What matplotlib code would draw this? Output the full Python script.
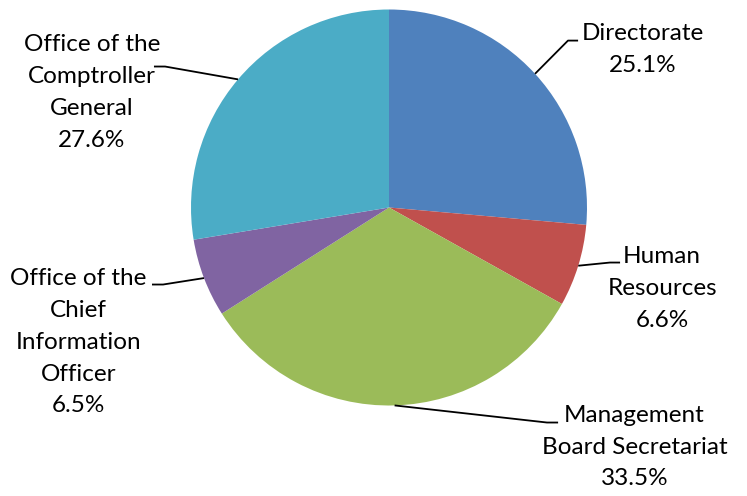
"""
Pie chart of share by division, with leader lines to outside labels.
"""

import matplotlib

matplotlib.use("Agg")
import matplotlib.pyplot as plt
import numpy as np

divisions = [
    "Directorate",
    "Human\nResources",
    "Management\nBoard Secretariat",
    "Office of the\nChief\nInformation\nOfficer",
    "Office of the\nComptroller\nGeneral",
]
# percentages printed on the labels
label_pcts = [25.1, 6.6, 33.5, 6.5, 27.6]
# wedge sizes as drawn in the picture (they don't quite agree with the labels)
wedge_sizes = [26.4, 6.7, 32.9, 6.4, 27.6]
colors = ["#4F81BD", "#C0504D", "#9BBB59", "#8064A2", "#4BACC6"]

# label centre, leader elbow and leader end (pie radius units, centre at 0,0)
label_pos = [(1.28, 0.80), (1.38, -0.41), (1.24, -1.21), (-1.57, -0.68), (-1.50, 0.58)]
elbows = [(0.904, 0.843), (1.116, -0.278), (0.798, -1.086), (-1.141, -0.389), (-1.131, 0.712)]
ends = [(0.955, 0.843), (1.167, -0.278), (0.854, -1.086), (-1.197, -0.389), (-1.187, 0.712)]

W, H = 747, 496
cx, cy, R = 389, 207.5, 198

plt.rcParams["font.family"] = ["Lato", "DejaVu Sans"]

fig = plt.figure(figsize=(W / 100, H / 100), dpi=100)
ax = fig.add_axes([0, 0, 1, 1])

wedges, _ = ax.pie(
    wedge_sizes,
    colors=colors,
    startangle=90,
    counterclock=False,
    radius=1,
    center=(0, 0),
    frame=True,
)
ax.set_aspect("equal")
ax.set_xlim(-cx / R, (W - cx) / R)
ax.set_ylim(-(H - cy) / R, cy / R)
ax.axis("off")

for w, name, val, (tx, ty), (ex, ey), (fx, fy) in zip(
    wedges, divisions, label_pcts, label_pos, elbows, ends
):
    mid = np.deg2rad((w.theta1 + w.theta2) / 2)
    ax.plot(
        [np.cos(mid), ex, fx],
        [np.sin(mid), ey, fy],
        color="black",
        lw=1.3,
        solid_capstyle="butt",
    )
    ax.text(
        tx,
        ty,
        f"{name}\n{val:.1f}%",
        ha="center",
        va="center",
        fontsize=17.5,
        linespacing=1.64,
        color="black",
    )

fig.savefig("out.png", dpi=100)
plt.close(fig)
